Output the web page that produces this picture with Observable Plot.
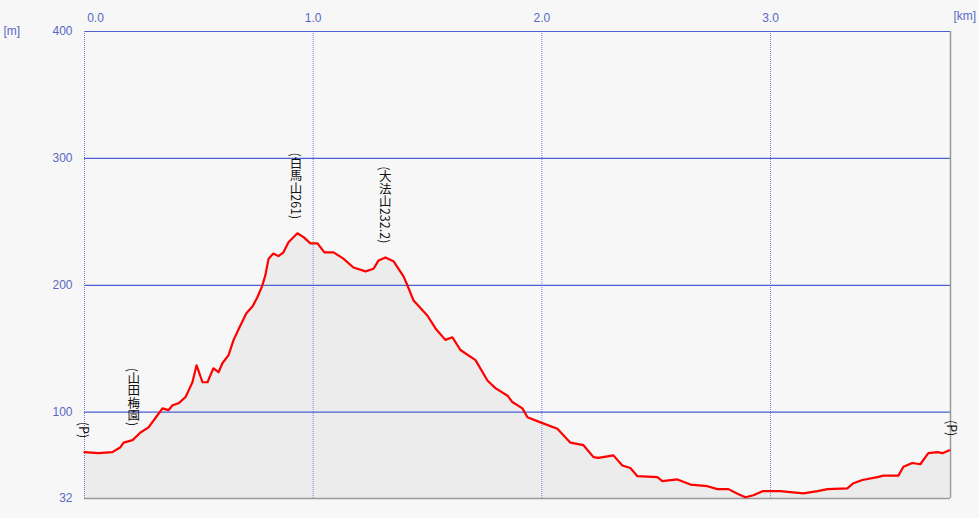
<!DOCTYPE html>
<html>
<head>
<meta charset="utf-8">
<script src="https://cdn.jsdelivr.net/npm/d3@7"></script>
<script src="https://cdn.jsdelivr.net/npm/@observablehq/plot@0.6"></script>
<style>
  html, body { margin: 0; padding: 0; background: #f7f7f7; }
  #chart { width: 979px; height: 518px; }
</style>
</head>
<body>
<div id="chart"></div>
<script>
// distance along the route [km]
const distanceKm = [0, 0.061, 0.122, 0.157, 0.171, 0.210, 0.245, 0.280, 0.319, 0.341, 0.367, 0.385, 0.411, 0.442, 0.455, 0.472, 0.490, 0.498, 0.516, 0.538, 0.547, 0.564, 0.586, 0.603, 0.630, 0.652, 0.678, 0.708, 0.735, 0.756, 0.778, 0.791, 0.805, 0.826, 0.848, 0.870, 0.892, 0.931, 0.958, 0.988, 1.019, 1.049, 1.089, 1.132, 1.176, 1.229, 1.264, 1.286, 1.316, 1.351, 1.395, 1.412, 1.439, 1.500, 1.535, 1.578, 1.609, 1.644, 1.710, 1.762, 1.797, 1.850, 1.871, 1.915, 1.937, 1.994, 2.068, 2.125, 2.182, 2.226, 2.247, 2.313, 2.352, 2.387, 2.418, 2.505, 2.527, 2.593, 2.650, 2.724, 2.768, 2.816, 2.860, 2.890, 2.925, 2.965, 3.043, 3.144, 3.205, 3.249, 3.336, 3.362, 3.402, 3.467, 3.494, 3.559, 3.581, 3.620, 3.655, 3.690, 3.730, 3.752, 3.782];
// elevation [m]
const elevationM = [68.5, 67.7, 68.5, 72.4, 76, 78, 84, 88, 97.6, 103, 101.6, 105.5, 107, 112, 117, 123.6, 137, 133, 123.6, 123.6, 127.6, 134.6, 131.5, 138.6, 145, 157, 167, 178, 183.5, 190.6, 200, 208, 221, 225, 223, 226, 234, 241, 238, 233, 233, 226, 226, 221, 214, 211, 213, 219.6, 222, 219, 207, 200, 188, 176, 166, 157, 159, 149, 141, 125, 119, 113, 108, 103, 96, 92, 87, 76, 74, 64.6, 64, 66, 58, 56, 49.6, 48.8, 45.7, 47, 43, 41.7, 39.4, 39.4, 35.4, 33, 34.6, 37.8, 37.8, 36, 37.8, 39.4, 40, 44, 46.6, 48.8, 50, 50, 57, 60, 59, 67.7, 68.5, 67.7, 70];

// waypoint labels
const labelText = ["(P)", "(山田梅園)", "(白馬山261)", "(大法山232.2)", "(P)"];
const labelKm = [0, 0.215, 0.925, 1.315, 3.795];
const labelM = [68.5, 78, 241, 222, 70];

// axis ticks
const xTicks = [1, 2, 3];
const xFirstTick = [0];
const yTicks = [32, 100, 200, 300, 400];
const yGrid = [100, 200, 300, 400];
const xGrid = [1, 2, 3];
const xMax = 3.787;
const yMin = 32, yMax = 400;

const profile = distanceKm.map((d, i) => ({km: d, m: elevationM[i]}));
const labels = labelText.map((t, i) => ({text: t, km: labelKm[i], m: labelM[i]}));

const blueText = "#5868c4";
const blueGrid = "#4c5ed2";

const chart = Plot.plot({
  width: 979,
  height: 518,
  marginLeft: 84,
  marginRight: 29,
  marginTop: 31,
  marginBottom: 20,
  style: {background: "#f7f7f7", fontFamily: "'Liberation Sans', Arial, sans-serif", fontSize: "12px"},
  x: {domain: [0, xMax], axis: null},
  y: {domain: [yMin, yMax], axis: null},
  marks: [
    Plot.areaY(profile, {x: "km", y1: yMin, y2: "m", fill: "#ececec"}),
    Plot.ruleX(xGrid, {stroke: "#3f5cff", strokeOpacity: 0.75, strokeWidth: 1, strokeDasharray: "1,1"}),
    Plot.ruleY(yGrid, {stroke: blueGrid, strokeWidth: 1.2}),
    Plot.ruleX([0], {stroke: "#6f80d0", strokeDasharray: "1,1"}),
    Plot.ruleX([xMax], {stroke: "#9a9a9a", strokeWidth: 1.5}),
    Plot.ruleY([yMin], {stroke: "#9a9a9a", strokeWidth: 1.5}),
    Plot.axisY({ticks: yTicks, tickSize: 0, tickPadding: 12, tickFormat: d => String(d), color: blueText, fontSize: 12, label: null}),
    Plot.axisX({anchor: "top", ticks: xTicks, tickSize: 0, tickPadding: 10, tickFormat: d3.format(".1f"), color: blueText, fontSize: 12, label: null}),
    Plot.axisX({anchor: "top", ticks: xFirstTick, tickSize: 0, tickPadding: 10, dx: 11, tickFormat: d3.format(".1f"), color: blueText, fontSize: 12, label: null}),
    Plot.text(["[m]"], {frameAnchor: "top-left", dx: -81, textAnchor: "start", lineAnchor: "middle", fill: blueText, fontSize: 12}),
    Plot.text(["[km]"], {frameAnchor: "top-right", dx: 3, dy: -15, textAnchor: "start", lineAnchor: "middle", fill: blueText, fontSize: 12}),
    Plot.line(profile, {x: "km", y: "m", stroke: "#ff0000", strokeWidth: 2.2}),
    Plot.text(labels, {x: "km", y: "m", text: "text", textAnchor: "end", lineAnchor: "bottom", dy: -14, fill: "#111", fontSize: 12.5, fontFamily: "'Noto Sans CJK JP', sans-serif", ariaDescription: "vlabels"})
  ]
});

document.getElementById("chart").appendChild(chart);
d3.select(chart).selectAll('g[aria-description="vlabels"] text')
  .style("writing-mode", "vertical-rl")
  .style("text-orientation", "mixed");
</script>
</body>
</html>
